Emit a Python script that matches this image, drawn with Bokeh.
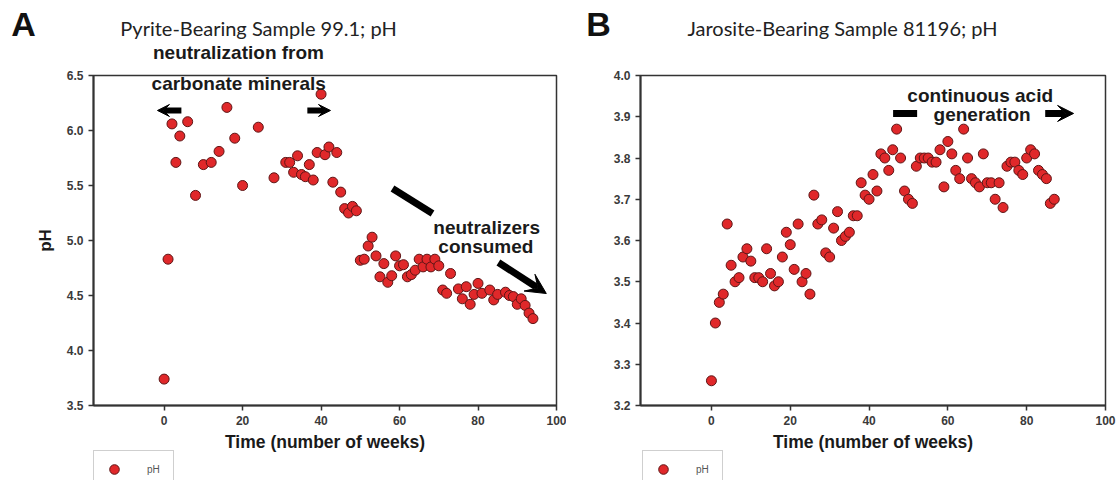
from bokeh.plotting import figure
from bokeh.layouts import row, column
from bokeh.models import (Label, Arrow, VeeHead, Legend, LegendItem, FixedTicker,
                          Range1d, NumeralTickFormatter, ColumnDataSource)
from bokeh.embed import file_html
from bokeh.resources import INLINE

# ---------------- data ----------------
weeks_a = [0, 1, 2, 3, 4, 6, 8, 10, 12, 14, 16, 18, 20, 24, 28, 31, 32, 33, 34, 35,
           36, 37, 38, 39, 40, 41, 42, 43, 44, 45, 46, 47, 48, 49, 50, 51, 52, 53, 54, 55,
           56, 57, 58, 59, 60, 61, 62, 63, 64, 65, 66, 67, 68, 69, 70, 71, 72, 73, 75, 76,
           77, 78, 79, 80, 81, 83, 84, 85, 87, 88, 89, 90, 91, 92, 93, 94]
ph_a = [3.74, 4.83, 6.06, 5.71, 5.95, 6.08, 5.41, 5.69, 5.71, 5.81, 6.21, 5.93, 5.50, 6.03, 5.57, 5.71, 5.71, 5.62, 5.77, 5.60,
        5.58, 5.69, 5.55, 5.80, 6.33, 5.78, 5.85, 5.53, 5.80, 5.44, 5.29, 5.25, 5.31, 5.27, 4.82, 4.83, 4.95, 5.03, 4.86, 4.67,
        4.79, 4.62, 4.68, 4.86, 4.77, 4.78, 4.67, 4.69, 4.73, 4.83, 4.76, 4.83, 4.76, 4.83, 4.77, 4.55, 4.52, 4.70, 4.56, 4.47,
        4.58, 4.42, 4.51, 4.61, 4.52, 4.55, 4.46, 4.51, 4.53, 4.50, 4.49, 4.42, 4.47, 4.41, 4.34, 4.29]

weeks_b = list(range(0, 88))
ph_b = [3.26, 3.40, 3.45, 3.47, 3.64, 3.54, 3.50, 3.51, 3.56, 3.58,
        3.55, 3.51, 3.51, 3.50, 3.58, 3.52, 3.49, 3.50, 3.56, 3.62,
        3.59, 3.53, 3.64, 3.50, 3.52, 3.47, 3.71, 3.64, 3.65, 3.57,
        3.56, 3.63, 3.67, 3.60, 3.61, 3.62, 3.66, 3.66, 3.74, 3.71,
        3.70, 3.76, 3.72, 3.81, 3.80, 3.77, 3.82, 3.87, 3.80, 3.72,
        3.70, 3.69, 3.78, 3.80, 3.80, 3.80, 3.79, 3.79, 3.82, 3.73,
        3.84, 3.81, 3.77, 3.75, 3.87, 3.80, 3.75, 3.74, 3.73, 3.81,
        3.74, 3.74, 3.70, 3.74, 3.68, 3.78, 3.79, 3.79, 3.77, 3.76,
        3.80, 3.82, 3.81, 3.77, 3.76, 3.75, 3.69, 3.70]

x_ticks = [0, 20, 40, 60, 80, 100]
y_ticks_a = [3.5, 4.0, 4.5, 5.0, 5.5, 6.0, 6.5]
y_ticks_b = [3.2, 3.3, 3.4, 3.5, 3.6, 3.7, 3.8, 3.9, 4.0]

title_a = "Pyrite-Bearing Sample 99.1; pH"
title_b = "Jarosite-Bearing Sample 81196; pH"
x_label = "Time (number of weeks)"
series_name = "pH"

# ---------------- style ----------------
ANN_FONT = "Liberation Sans"
TITLE_FONT = "Lato"
RED = "#e0282a"
EDGE = "#5e1616"
AXIS_C = "#333333"
W, H = 1118, 480
HEADER_H = 64
TOP_B, FRAME_H, BOT_B = 11, 330, 24
FOOT_H = H - HEADER_H - TOP_B - FRAME_H - BOT_B
FOOT_TOP = H - FOOT_H
MARK = dict(size=10, fill_color=RED, line_color=EDGE, line_width=1)


def make_fig(width, border_left, border_right, y_lo, y_hi, y_ticks, ylabel):
    p = figure(width=width, height=TOP_B + FRAME_H + BOT_B, x_range=Range1d(-18, 100),
               y_range=Range1d(y_lo, y_hi), output_backend="svg", toolbar_location=None,
               min_border_left=border_left, min_border_right=border_right,
               min_border_top=TOP_B, min_border_bottom=BOT_B)
    p.xgrid.visible = False
    p.ygrid.visible = False
    p.outline_line_color = AXIS_C
    p.outline_line_width = 1.5
    p.xaxis.ticker = FixedTicker(ticks=x_ticks)
    p.yaxis.ticker = FixedTicker(ticks=y_ticks)
    p.yaxis.formatter = NumeralTickFormatter(format="0.0")
    for ax in (p.xaxis[0], p.yaxis[0]):
        ax.axis_line_width = 2
        ax.axis_line_color = AXIS_C
        ax.major_tick_line_color = AXIS_C
        ax.major_tick_line_width = 1.5
        ax.major_tick_out = 5
        ax.major_tick_in = 0
        ax.minor_tick_line_color = None
        ax.major_label_text_font = ANN_FONT
        ax.major_label_text_font_style = "bold"
        ax.major_label_text_font_size = "12px"
        ax.major_label_text_color = "#3a3a3a"
        ax.major_label_standoff = 5
        ax.axis_label_text_font = ANN_FONT
        ax.axis_label_text_font_style = "bold"
        ax.axis_label_text_font_size = "17px"
        ax.axis_label_text_color = "#1a1a1a"
    if ylabel:
        p.yaxis.axis_label = ylabel
        p.yaxis.axis_label_standoff = 9
    return p


def add_points(p, xs, ys):
    src = ColumnDataSource(dict(x=xs, y=ys))
    return p.scatter("x", "y", source=src, **MARK)


def txt(p, x, y, s, size="19px", font=ANN_FONT, style="bold", color="#1a1a1a"):
    p.add_layout(Label(x=x, y=y, text=s, text_font=font, text_font_style=style,
                       text_font_size=size, text_color=color, text_align="center",
                       text_baseline="middle"))


def arrow(p, x0, y0, x1, y1, w, head):
    end = VeeHead(size=head, fill_color="black", line_color="black") if head else None
    p.add_layout(Arrow(end=end, x_start=x0, y_start=y0, x_end=x1, y_end=y1,
                       line_width=w, line_color="black"))


def strip(height, y_top):
    f = figure(width=W, height=height, x_range=Range1d(0, W), y_range=Range1d(y_top + height, y_top),
               output_backend="svg", toolbar_location=None, min_border=0)
    f.axis.visible = False
    f.grid.visible = False
    f.outline_line_color = None
    return f


# ---------------- header (panel letters, titles) ----------------
hdr = strip(HEADER_H, 0)
txt(hdr, 23, 23, "A", size="34px", color="#111111")
txt(hdr, 258, 27, title_a, size="20px", font=TITLE_FONT, style="normal", color="#222222")
txt(hdr, 238, 52, "neutralization from")
txt(hdr, 598, 23, "B", size="34px", color="#111111")
txt(hdr, 842, 27, title_b, size="20px", font=TITLE_FONT, style="normal", color="#222222")

# ---------------- panel A ----------------
pa = make_fig(566, 93, 10, 3.5, 6.5, y_ticks_a, "pH")
add_points(pa, weeks_a, ph_a)
txt(pa, 19.0, 6.427, "carbonate minerals")
arrow(pa, 4.4, 6.182, -1.7, 6.182, 6, 12)
arrow(pa, 36.5, 6.182, 42.4, 6.182, 6, 12)
arrow(pa, 58.2, 5.473, 68.4, 5.245, 7, 0)
txt(pa, 82.2, 5.118, "neutralizers")
txt(pa, 82.0, 4.95, "consumed")
arrow(pa, 85.2, 4.80, 97.4, 4.518, 7, 20)

# ---------------- panel B ----------------
pb = make_fig(552, 74, 13, 3.2, 4.0, y_ticks_b, None)
add_points(pb, weeks_b, ph_b)
txt(pb, 68.2, 3.952, "continuous acid")
txt(pb, 68.7, 3.905, "generation")
arrow(pb, 46.1, 3.908, 52.2, 3.908, 7, 0)
arrow(pb, 84.7, 3.908, 91.9, 3.908, 7, 16)

# ---------------- footer (axis titles, legends) ----------------
# the series is re-plotted in the footer strip (its values fall outside the strip's
# ranges, so nothing shows) only so that each legend has a glyph to draw
ftr = strip(FOOT_H, FOOT_TOP)
txt(ftr, 93 + 463 / 2, 441, x_label, size="17.5px")
txt(ftr, 640 + 465 / 2, 441, x_label, size="17.5px")
keys = [add_points(ftr, weeks_a, ph_a), add_points(ftr, weeks_b, ph_b)]
for left, key in zip((93, 642), keys):
    ftr.add_layout(Legend(items=[LegendItem(label=series_name, renderers=[key], index=0)],
                          location=(left, -8),
                          border_line_color="#a0a0a0", border_line_width=1, background_fill_color="white",
                          background_fill_alpha=1, label_text_font=ANN_FONT, label_text_font_size="10px",
                          label_text_color="#555555", glyph_width=28, glyph_height=24, label_height=24,
                          padding=6, spacing=0, margin=0, label_standoff=19))

layout = column(hdr, row(pa, pb, spacing=0), ftr, spacing=0)
open("out.html", "w").write(file_html(layout, INLINE))
